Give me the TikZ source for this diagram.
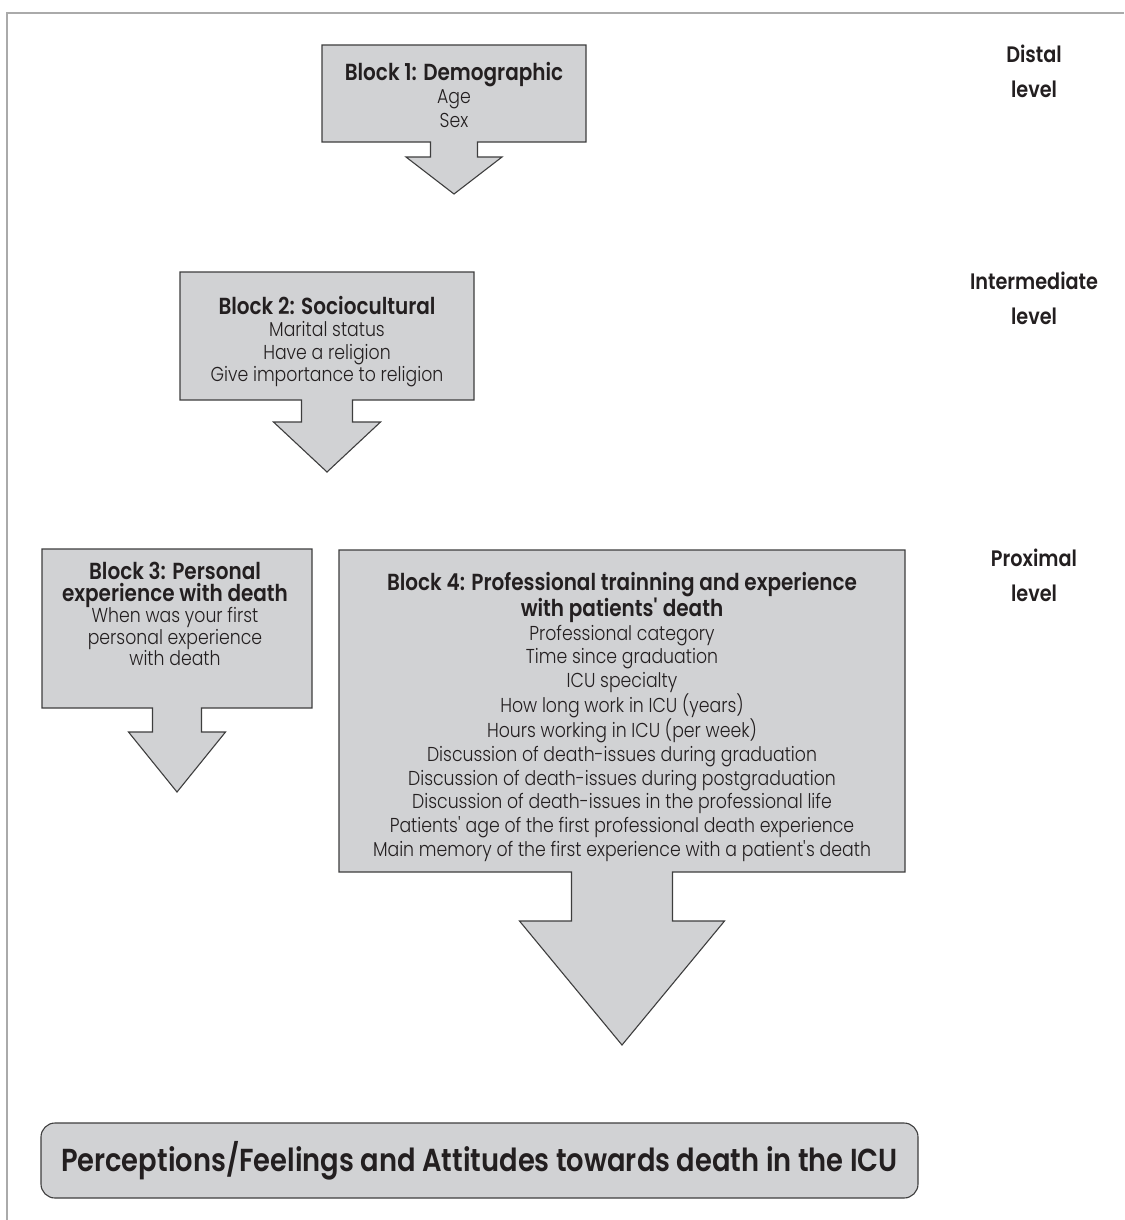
\documentclass[tikz,border=0pt]{standalone}
\usepackage{fontspec}
\setmainfont{Poppins}[UprightFont=* Light, BoldFont=* SemiBold, FakeStretch=0.86]
\definecolor{boxgray}{RGB}{209,210,212}
\definecolor{edgegray}{RGB}{62,62,62}
\definecolor{framegray}{RGB}{170,170,170}
\definecolor{textblack}{RGB}{35,31,32}
\newlength\wtmp
\settowidth\wtmp{\fontsize{20}{24}\selectfont Main memory of the first experience with a patient\textquotesingle s death}
\pgfmathsetmacro\fsreg{498/\wtmp*20}
\settowidth\wtmp{\fontsize{20}{24}\selectfont\bfseries Block 4: Professional trainning and experience}
\pgfmathsetmacro\fsbold{470/\wtmp*20}
\settowidth\wtmp{\fontsize{20}{24}\selectfont\bfseries Perceptions/Feelings and Attitudes towards death in the ICU}
\pgfmathsetmacro\fsbig{837/\wtmp*20}
\settowidth\wtmp{\fontsize{20}{24}\selectfont\bfseries Intermediate}
\pgfmathsetmacro\fslev{128/\wtmp*20}
\newcommand\bt[1]{{\fontsize{\fsbold}{20}\selectfont\bfseries #1}}
\newcommand\apo{\textquotesingle}
\tikzset{
  blockshape/.style={fill=boxgray, draw=edgegray, line width=1.1pt, line join=miter},
  blocktext/.style={anchor=north, inner sep=0pt, align=center, text=textblack},
  levellabel/.style={anchor=north, inner sep=0pt, align=center, text=textblack,
    font=\fontsize{\fslev}{35}\selectfont\bfseries},
  outcomebox/.style={fill=boxgray, draw=edgegray, line width=1.1pt, rounded corners=14pt,
    minimum width=877pt, minimum height=75pt, inner sep=0pt, text=textblack,
    font=\fontsize{\fsbig}{30}\selectfont\bfseries}
}
\begin{document}
\begin{tikzpicture}[x=1pt,y=-1pt]
\useasboundingbox (0,0) rectangle (1124,1220);
% frame
\draw[framegray, line width=1.5pt] (1124,13) -- (7,13) -- (7,1220);

% Block 1
\draw[blockshape] (322,45) -- (586,45) -- (586,142) -- (477.5,142) -- (477.5,157) -- (502,157)
  -- (454,194) -- (406,157) -- (430.5,157) -- (430.5,142) -- (322,142) -- cycle;
\node[blocktext, font=\fontsize{\fsreg}{23.5}\selectfont] (b1) at (454,62)
  {\bt{Block 1: Demographic}\\ Age\\ Sex};

% Block 2
\draw[blockshape] (180,272) -- (474,272) -- (474,400) -- (352.5,400) -- (352.5,422) -- (380.5,422)
  -- (327,472) -- (273.5,422) -- (301.5,422) -- (301.5,400) -- (180,400) -- cycle;
\node[blocktext, font=\fontsize{\fsreg}{22.5}\selectfont] (b2) at (327,296)
  {\bt{Block 2: Sociocultural}\\ Marital status\\ Have a religion\\ Give importance to religion};

% Block 3
\draw[blockshape] (42,549) -- (312,549) -- (312,708) -- (201.5,708) -- (201.5,732) -- (225.5,732)
  -- (177,792) -- (128.5,732) -- (152.5,732) -- (152.5,708) -- (42,708) -- cycle;
\node[blocktext, font=\fontsize{\fsreg}{21.5}\selectfont] (b3) at (175,562)
  {\bt{Block 3: Personal}\\ \bt{experience with death}\\ When was your first\\ personal experience\\ with death};

% Block 4
\draw[blockshape] (339,550) -- (905,550) -- (905,872) -- (672.5,872) -- (672.5,921) -- (724.5,921)
  -- (622,1045) -- (519.5,921) -- (571.5,921) -- (571.5,872) -- (339,872) -- cycle;
\node[blocktext, font=\fontsize{\fsreg}{23.7}\selectfont] (b4) at (622,572)
  {\bt{Block 4: Professional trainning and experience}\\ \bt{with patients\apo{} death}\\
   Professional category\\ Time since graduation\\ ICU specialty\\ How long work in ICU (years)\\
   Hours working in ICU (per week)\\ Discussion of death-issues during graduation\\
   Discussion of death-issues during postgraduation\\ Discussion of death-issues in the professional life\\
   Patients\apo{} age of the first professional death experience\\
   Main memory of the first experience with a patient\apo s death};

% Outcome
\node[outcomebox] (out) at (479.5,1160.5) {Perceptions/Feelings and Attitudes towards death in the ICU};

% Levels
\node[levellabel] (distal) at (1034,45) {Distal\\ level};
\node[levellabel] (inter) at (1034,272) {Intermediate\\ level};
\node[levellabel] (prox) at (1034,549) {Proximal\\ level};
\end{tikzpicture}
\end{document}
